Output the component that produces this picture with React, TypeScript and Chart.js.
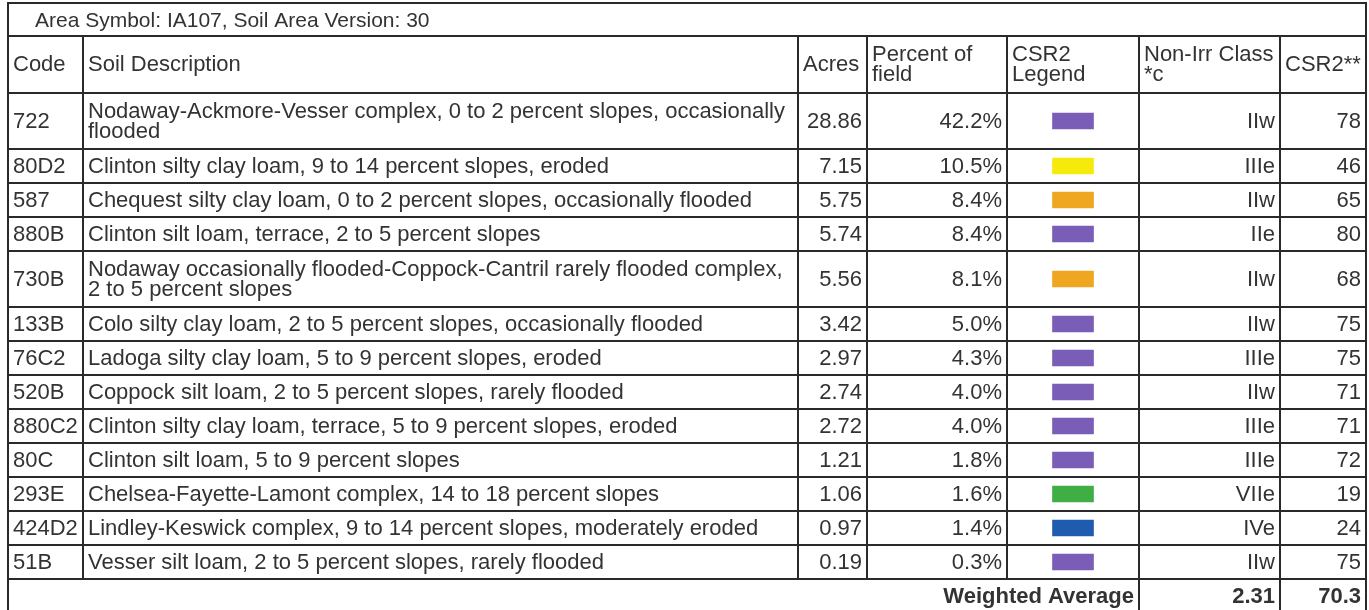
import React, { useEffect, useRef } from 'react';
import { Chart, registerables } from 'chart.js';

Chart.register(...registerables);

// ---------- data ----------
const TITLE = 'Area Symbol: IA107, Soil Area Version: 30';
const HEADERS = ['Code', 'Soil Description', 'Acres', 'Percent of field', 'CSR2 Legend', 'Non-Irr Class *c', 'CSR2**'];

const codes = ['722', '80D2', '587', '880B', '730B', '133B', '76C2', '520B', '880C2', '80C', '293E', '424D2', '51B'];
const descriptions = [
  'Nodaway-Ackmore-Vesser complex, 0 to 2 percent slopes, occasionally flooded',
  'Clinton silty clay loam, 9 to 14 percent slopes, eroded',
  'Chequest silty clay loam, 0 to 2 percent slopes, occasionally flooded',
  'Clinton silt loam, terrace, 2 to 5 percent slopes',
  'Nodaway occasionally flooded-Coppock-Cantril rarely flooded complex, 2 to 5 percent slopes',
  'Colo silty clay loam, 2 to 5 percent slopes, occasionally flooded',
  'Ladoga silty clay loam, 5 to 9 percent slopes, eroded',
  'Coppock silt loam, 2 to 5 percent slopes, rarely flooded',
  'Clinton silty clay loam, terrace, 5 to 9 percent slopes, eroded',
  'Clinton silt loam, 5 to 9 percent slopes',
  'Chelsea-Fayette-Lamont complex, 14 to 18 percent slopes',
  'Lindley-Keswick complex, 9 to 14 percent slopes, moderately eroded',
  'Vesser silt loam, 2 to 5 percent slopes, rarely flooded',
];
const acres = [28.86, 7.15, 5.75, 5.74, 5.56, 3.42, 2.97, 2.74, 2.72, 1.21, 1.06, 0.97, 0.19];
const percentOfField = [42.2, 10.5, 8.4, 8.4, 8.1, 5.0, 4.3, 4.0, 4.0, 1.8, 1.6, 1.4, 0.3];
const legendClass = ['purple', 'yellow', 'orange', 'purple', 'orange', 'purple', 'purple', 'purple', 'purple', 'purple', 'green', 'blue', 'purple'];
const nonIrrClass = ['IIw', 'IIIe', 'IIw', 'IIe', 'IIw', 'IIw', 'IIIe', 'IIw', 'IIIe', 'IIIe', 'VIIe', 'IVe', 'IIw'];
const csr2 = [78, 46, 65, 80, 68, 75, 75, 71, 71, 72, 19, 24, 75];
const WEIGHTED_LABEL = 'Weighted Average';
const weightedClass = 2.31;
const weightedCsr2 = 70.3;

// ---------- style / layout ----------
const LEGEND_COLORS: Record<string, string> = {
  purple: '#7a5db6',
  yellow: '#f6ea0c',
  orange: '#efa620',
  green: '#3fae45',
  blue: '#1f5caf',
};
const COL_WIDTHS = [75, 715, 69, 140, 132, 141, 86];
const COL_ALIGN = ['left', 'left', 'right', 'right', 'center', 'right', 'right'];
const TITLE_H = 33;
const HEADER_H = 57;
const ROW_H = 34;
const ROW2_H = 56;
const LINE_H = 20.5;
const HEADER_LINE_H = 20;
const PAD = 5;
const FONT = '"Liberation Sans", Arial, sans-serif';
const FS = 22;
const TEXT_COLOR = '#333333';
const LINE_COLOR = '#2a2a2a';
const W = 1369;
const H = 610;

function wrap(ctx: CanvasRenderingContext2D, text: string, maxW: number): string[] {
  const words = text.split(' ');
  const lines: string[] = [];
  let cur = '';
  for (const w of words) {
    const t = cur ? cur + ' ' + w : w;
    if (ctx.measureText(t).width <= maxW || !cur) cur = t;
    else {
      lines.push(cur);
      cur = w;
    }
  }
  if (cur) lines.push(cur);
  return lines;
}

export default function App() {
  const ref = useRef<HTMLCanvasElement | null>(null);

  useEffect(() => {
    const canvas = ref.current;
    if (!canvas) return;
    const mctx = document.createElement('canvas').getContext('2d')!;
    mctx.font = `${FS}px ${FONT}`;

    const edges: number[] = [0];
    COL_WIDTHS.forEach((w) => edges.push(edges[edges.length - 1] + w));
    const totalW = edges[edges.length - 1];

    const headerLines = HEADERS.map((h, i) => wrap(mctx, h, COL_WIDTHS[i] - 2 * PAD));
    const descLines = descriptions.map((d) => wrap(mctx, d, COL_WIDTHS[1] - 2 * PAD));

    const rowTops: number[] = [];
    const rowHs: number[] = [];
    let y = TITLE_H + HEADER_H;
    descLines.forEach((l) => {
      const h = l.length > 1 ? ROW2_H : ROW_H;
      rowTops.push(y);
      rowHs.push(h);
      y += h;
    });
    const weightedTop = y;
    const weightedBottom = y + ROW_H;
    const yMax = H - 3;

    const legendCenter = (edges[4] + edges[5]) / 2;
    const swatchData = codes.map((_, i) => ({
      x: [legendCenter - 20.5, legendCenter + 20.5],
      y: rowTops[i] + rowHs[i] / 2,
    }));

    const tablePlugin = {
      id: 'tablePlugin',
      afterDraw(chart: any) {
        const ctx = chart.ctx as CanvasRenderingContext2D;
        const xs = chart.scales.x;
        const ys = chart.scales.y;
        const px = (v: number) => xs.getPixelForValue(v);
        const py = (v: number) => ys.getPixelForValue(v);
        ctx.save();
        ctx.strokeStyle = LINE_COLOR;
        ctx.lineWidth = 2;
        const hline = (v: number, a = 0, b = totalW) => {
          ctx.beginPath();
          ctx.moveTo(px(a) - 1, py(v));
          ctx.lineTo(px(b) + 1, py(v));
          ctx.stroke();
        };
        const vline = (x: number, a: number, b: number) => {
          ctx.beginPath();
          ctx.moveTo(px(x), py(a));
          ctx.lineTo(px(x), py(b));
          ctx.stroke();
        };
        hline(0);
        hline(TITLE_H);
        hline(TITLE_H + HEADER_H);
        rowTops.forEach((t, i) => hline(t + rowHs[i]));
        hline(weightedBottom);
        vline(0, 0, weightedBottom);
        vline(totalW, 0, weightedBottom);
        for (let c = 1; c < edges.length - 1; c++) {
          vline(edges[c], TITLE_H, weightedTop);
        }
        vline(edges[5], weightedTop, weightedBottom);
        vline(edges[6], weightedTop, weightedBottom);

        ctx.fillStyle = TEXT_COLOR;
        const cap = FS * 0.716;
        const drawCell = (lines: string[], col: number, top: number, h: number, bold = false, align?: string, lh = LINE_H) => {
          ctx.font = `${bold ? 'bold ' : ''}${FS}px ${FONT}`;
          const a = align || COL_ALIGN[col];
          let x: number;
          if (a === 'left') x = px(edges[col]) + PAD;
          else if (a === 'right') x = px(edges[col + 1]) - PAD;
          else x = (px(edges[col]) + px(edges[col + 1])) / 2;
          ctx.textAlign = a as CanvasTextAlign;
          ctx.textBaseline = 'alphabetic';
          const center = (py(top) + py(top + h)) / 2 - 1;
          const first = center - ((lines.length - 1) * lh) / 2;
          lines.forEach((ln, k) => ctx.fillText(ln, x, first + k * lh + cap / 2));
        };

        ctx.font = `21px ${FONT}`;
        ctx.textAlign = 'left';
        ctx.textBaseline = 'alphabetic';
        ctx.fillText(TITLE, px(27), (py(0) + py(TITLE_H)) / 2 + (21 * 0.716) / 2);

        HEADERS.forEach((_, c) => drawCell(headerLines[c], c, TITLE_H, HEADER_H, false, 'left', HEADER_LINE_H));

        codes.forEach((code, i) => {
          const t = rowTops[i];
          const h = rowHs[i];
          drawCell([code], 0, t, h);
          drawCell(descLines[i], 1, t, h);
          drawCell([acres[i].toFixed(2)], 2, t, h);
          drawCell([percentOfField[i].toFixed(1) + '%'], 3, t, h);
          drawCell([nonIrrClass[i]], 5, t, h);
          drawCell([String(csr2[i])], 6, t, h);
        });

        ctx.font = `bold ${FS}px ${FONT}`;
        ctx.textAlign = 'right';
        const wc = (py(weightedTop) + py(weightedBottom)) / 2 - 1 + cap / 2;
        ctx.fillText(WEIGHTED_LABEL, px(edges[5]) - PAD, wc);
        drawCell([weightedClass.toFixed(2)], 5, weightedTop, ROW_H, true);
        drawCell([weightedCsr2.toFixed(1)], 6, weightedTop, ROW_H, true);
        ctx.restore();
      },
    };

    const chart = new Chart(canvas, {
      type: 'bar',
      data: {
        datasets: [
          {
            label: 'CSR2 Legend',
            data: swatchData as any,
            backgroundColor: legendClass.map((c) => LEGEND_COLORS[c]),
            borderWidth: 0,
            barThickness: 16,
            grouped: false,
          } as any,
        ],
      },
      options: {
        animation: false,
        responsive: false,
        devicePixelRatio: 1,
        indexAxis: 'y',
        layout: { padding: { left: 8, right: W - 8 - totalW, top: 3, bottom: 0 } },
        scales: {
          x: { type: 'linear', min: 0, max: totalW, display: false, offset: false, grid: { display: false } },
          y: { type: 'linear', min: 0, max: yMax, reverse: true, display: false, offset: false, grid: { display: false } },
        },
        plugins: { legend: { display: false }, tooltip: { enabled: false } },
      },
      plugins: [tablePlugin],
    });
    return () => chart.destroy();
  }, []);

  return (
    <div style={{ position: 'fixed', left: 0, top: 0, width: W, height: H, background: '#fff' }}>
      <canvas ref={ref} width={W} height={H} style={{ display: 'block' }} />
    </div>
  );
}
